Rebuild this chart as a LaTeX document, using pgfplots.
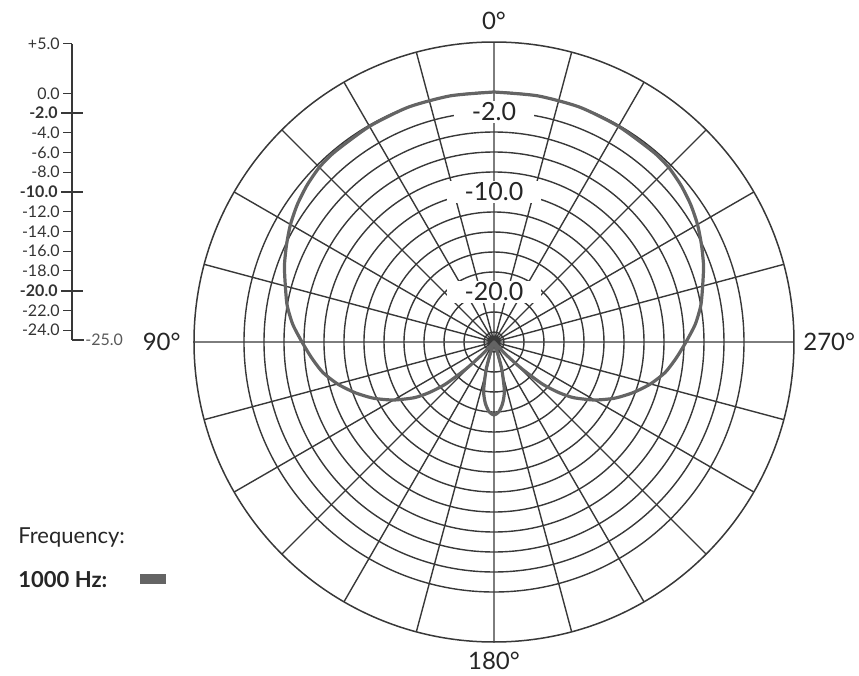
\documentclass[border=0pt]{standalone}
\usepackage{pgfplots}
\pgfplotsset{compat=1.18}
\usepgfplotslibrary{polar}
\usepackage{pgfplotstable}
\usepackage{fontspec}
\setmainfont{Lato}

\definecolor{gridc}{HTML}{383838}
\definecolor{curvec}{HTML}{646464}

\tikzset{
    lvl/.style={fill=white, inner xsep=9pt, inner ysep=1pt,
        font=\fontsize{12.5}{14}\selectfont, text=black!85},
    ang/.style={font=\fontsize{12}{14}\selectfont, text=black!85, inner sep=0pt},
}

% polar response at 1000 Hz, angle from front (deg) and level (dB)
\pgfplotstableread{
deg db
0 0
10 0
20 0
30 -0.1
40 -0.2
45 -0.3
50 -0.6
55 -1.0
60 -1.5
65 -2.1
70 -2.7
75 -3.4
80 -4.0
85 -4.8
90 -5.8
95 -6.7
100 -7.6
105 -8.8
110 -10.2
115 -11.7
120 -13.4
125 -15.3
128 -16.8
131 -18.6
134 -21.2
137 -23.5
140 -25
158 -25
161 -24.2
164 -22.2
168 -20.0
172 -18.8
176 -18.0
180 -17.7
184 -18.0
188 -18.8
192 -20.0
196 -22.2
199 -24.2
202 -25
220 -25
223 -23.5
226 -21.2
229 -18.6
232 -16.8
235 -15.3
240 -13.4
245 -11.7
250 -10.2
255 -8.8
260 -7.6
265 -6.7
270 -5.8
275 -4.8
280 -4.0
285 -3.4
290 -2.7
295 -2.1
300 -1.5
305 -1.0
310 -0.6
315 -0.3
320 -0.2
330 -0.1
340 0
350 0
360 0
}\respdata

\begin{document}
\begin{tikzpicture}
\useasboundingbox (0,0) rectangle (429.5pt,338pt);

\begin{polaraxis}[
    at={(247pt,167pt)}, anchor=center,
    scale only axis, width=300pt, height=300pt,
    xmin=0, xmax=360, ymin=0, ymax=30,
    xtick={0,15,...,345}, ytick={1,3,...,25},
    xmajorticks=false, ymajorticks=false,
    grid=major,
    grid style={gridc, line width=0.7pt},
    axis line style={gridc, line width=0.75pt},
    y axis line style={draw=none},
    clip=false,
    ]
    \addplot[curvec, line width=1.6pt, smooth, tension=0.4]
        table[x expr=\thisrow{deg}+90, y expr=\thisrow{db}+25] {\respdata};
    \node[lvl] at (axis cs:90,23) {-2.0};
    \node[lvl] at (axis cs:90,15) {-10.0};
    \node[lvl] at (axis cs:90,5) {-20.0};
    \node[ang, anchor=south] at (axis cs:90,31.2) {0°};
    \node[ang, anchor=east] at (axis cs:180,31.3) {90°};
    \node[ang, anchor=west] at (axis cs:0,30.9) {270°};
    \node[ang, anchor=north] at (axis cs:270,31.0) {180°};
\end{polaraxis}

\begin{axis}[
    at={(36pt,168pt)}, anchor=south west,
    scale only axis, width=6pt, height=148pt,
    xmin=0, xmax=1, ymin=-25, ymax=5,
    axis x line*=bottom, axis y line*=left,
    axis line style={gridc, line width=0.6pt, -},
    xtick=\empty,
    ytick={5,0,-4,-6,-8,-12,-14,-16,-18,-22,-24},
    yticklabels={+5.0,0.0,-4.0,-6.0,-8.0,-12.0,-14.0,-16.0,-18.0,-22.0,-24.0},
    extra y ticks={-2,-10,-20},
    extra y tick labels={\textbf{-2.0},\textbf{-10.0},\textbf{-20.0}},
    extra tick style={tick align=center, major tick length=11pt,
        major tick style={gridc, line width=0.9pt}},
    tick align=outside,
    major tick length=4.5pt,
    major tick style={gridc, line width=0.5pt},
    yticklabel style={font=\fontsize{8}{9}\selectfont, text=black!80, inner sep=1.5pt},
    clip=false,
    ]
    \node[anchor=west, inner sep=0.5pt, font=\fontsize{8}{9}\selectfont, text=black!65]
        at (axis cs:1,-25) {-25.0};
\end{axis}

\node[anchor=west, inner sep=0pt, font=\fontsize{11}{13}\selectfont, text=black!85]
    at (9pt,69pt) {Frequency:};
\node[anchor=west, inner sep=0pt, font=\fontsize{11}{13}\selectfont\bfseries, text=black!85]
    at (9pt,48pt) {1000 Hz:};
\fill[curvec] (70pt,46pt) rectangle (83pt,51pt);
\end{tikzpicture}
\end{document}
